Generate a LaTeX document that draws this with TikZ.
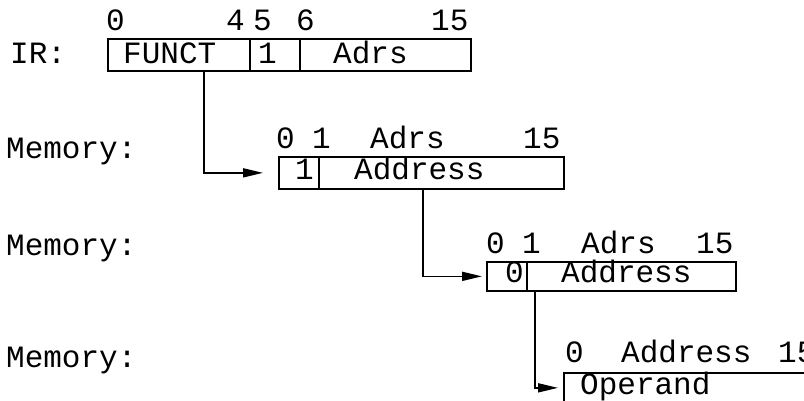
\documentclass[tikz,border=0pt]{standalone}
\usepackage{fontspec}
\setmonofont{Liberation Mono}
\usetikzlibrary{arrows.meta}
\begin{document}
\begin{tikzpicture}[x=1pt,y=-1pt,
  txt/.style={font=\ttfamily\fontsize{31}{31}\selectfont, inner sep=0pt, anchor=base west},
  fld/.style={draw, line width=1.7pt, inner sep=0pt, anchor=north west},
  conn/.style={line width=1.7pt, -{Triangle[length=20pt,width=9pt]}}]
\useasboundingbox (0,0) rectangle (804,400);
\clip (0,0) rectangle (804,400);
% IR register
\node[txt] (irlbl) at (10,63) {IR:};
\node[fld, minimum width=142pt, minimum height=32pt] (funct) at (107,38) {};
\node[fld, minimum width=50pt, minimum height=32pt] (irone) at (249,38) {};
\node[fld, minimum width=171pt, minimum height=32pt] (iradrs) at (299,38) {};
\node[txt] (b0) at (106,30) {0};
\node[txt] (b4) at (226,30) {4};
\node[txt] (b5) at (253,30) {5};
\node[txt] (b6) at (296,30) {6};
\node[txt] (b15) at (431,30) {15};
\node[txt] (tfunct) at (123,63) {FUNCT};
\node[txt] (tone) at (258,63) {1};
\node[txt] (tadrs) at (333,63) {Adrs};
% Memory labels
\node[txt] (mem1) at (6,158) {Memory:};
\node[txt] (mem2) at (6,255) {Memory:};
\node[txt] (mem3) at (6,367) {Memory:};
% Memory word 1
\node[fld, minimum width=40pt, minimum height=32pt] (ma) at (278,156) {};
\node[fld, minimum width=245pt, minimum height=32pt] (mb) at (318,156) {};
\node[txt] (ma0) at (276,148) {0};
\node[txt] (ma1) at (312,148) {1};
\node[txt] (maadrs) at (370,148) {Adrs};
\node[txt] (ma15) at (523,148) {15};
\node[txt] (maone) at (295,179) {1};
\node[txt] (maaddr) at (354,179) {Address};
% Memory word 2
\node[fld, minimum width=40pt, minimum height=29pt] (na) at (486,261) {};
\node[fld, minimum width=209pt, minimum height=29pt] (nb) at (526,261) {};
\node[txt] (na0) at (486,253) {0};
\node[txt] (na1) at (522,253) {1};
\node[txt] (naadrs) at (581,253) {Adrs};
\node[txt] (na15) at (696,253) {15};
\node[txt] (nazero) at (505,282) {0};
\node[txt] (naaddr) at (561,282) {Address};
% Memory word 3
\node[fld, minimum width=300pt, minimum height=30pt] (oa) at (563,372) {};
\node[txt] (oa0) at (565,362) {0};
\node[txt] (oaaddr) at (621,362) {Address};
\node[txt] (oa15) at (778,362) {15};
\node[txt] (oaop) at (580,394) {Operand};
% connectors
\draw[conn, shorten >=15pt] ([xshift=25pt]funct.south) |- (ma.west);
\draw[conn, shorten >=4pt] ([xshift=-18.5pt]mb.south) |- (na.west);
\draw[conn, shorten >=5pt] ([xshift=-96.5pt]nb.south) |- (oa.west);
\end{tikzpicture}
\end{document}
